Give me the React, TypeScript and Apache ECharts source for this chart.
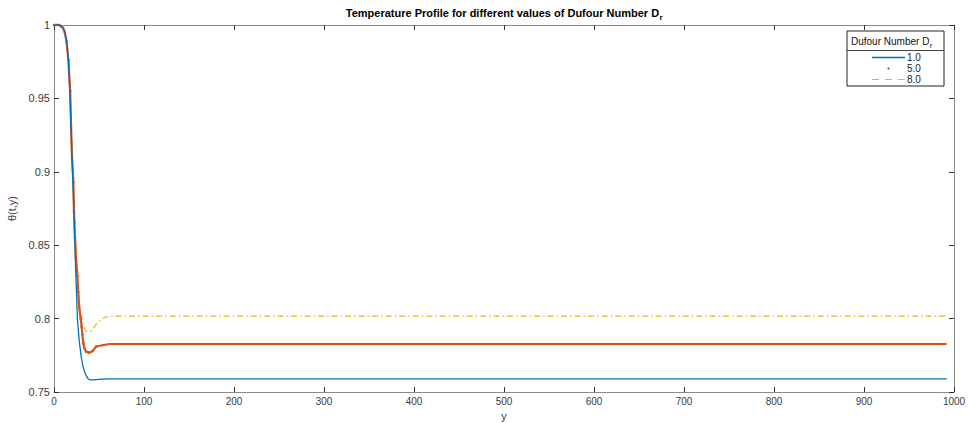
import React, { useEffect, useRef } from "react";
import * as echarts from "echarts";

const seriesNames = ["1.0", "5.0", "8.0"];
const seriesColors = ["#0072BD", "#D95319", "#EDB120"];

const blueX = [0, 6, 10, 12, 14, 16, 18, 20, 22, 24, 26, 28, 30, 32, 34, 36, 38, 40, 44, 50, 60, 992];
const blueY = [1, 1, 0.998, 0.9955, 0.99, 0.977, 0.948, 0.91, 0.876, 0.835, 0.8, 0.785, 0.775, 0.768, 0.7635, 0.761, 0.759, 0.7582, 0.7582, 0.7586, 0.7589, 0.7589];

const orangeX = [0, 2, 4, 6, 8, 10, 12, 14, 16, 18, 19, 20, 21.5, 22.2, 23.3, 24.4, 26, 27, 28, 29.6, 30.7, 31.5, 32.6, 33.7, 35.6, 39, 43, 47, 55, 62, 992];
const orangeY = [1, 1, 1, 1, 0.999, 0.998, 0.995, 0.988, 0.976, 0.955, 0.93, 0.91, 0.893, 0.873, 0.855, 0.841, 0.829, 0.818, 0.808, 0.8, 0.7945, 0.789, 0.783, 0.78, 0.7775, 0.7768, 0.778, 0.781, 0.782, 0.7827, 0.7827];

const yellowX = [0, 6, 10, 12, 14, 16, 18, 20, 22, 24, 26, 28, 30, 32, 34, 36, 38, 40, 44, 48, 52, 56, 62, 992];
const yellowY = [1, 1, 0.998, 0.995, 0.988, 0.976, 0.955, 0.913, 0.883, 0.852, 0.83, 0.81, 0.803, 0.797, 0.793, 0.7915, 0.791, 0.791, 0.7935, 0.797, 0.799, 0.8008, 0.8017, 0.8017];

const titleMain = "Temperature Profile for different values of Dufour Number D";
const titleSub = "r";
const legendTitle = "Dufour Number D";
const legendSub = "r";
const xName = "y";
const yName = "θ(t,y)";

const pair = (xs: number[], ys: number[]) => xs.map((x, i) => [x, ys[i]]);

const FONT = "'Liberation Sans', Arial, Helvetica, sans-serif";
const AXIS_GREY = "#8a8a8a";
const TEXT = "#3a3a3a";

function measure(text: string, font: string): number {
  const c = document.createElement("canvas");
  const ctx = c.getContext("2d");
  if (!ctx) return text.length * 6;
  ctx.font = font;
  return ctx.measureText(text).width;
}

export default function App() {
  const ref = useRef<HTMLDivElement>(null);
  useEffect(() => {
    if (!ref.current) return;
    const chart = echarts.init(ref.current, null, { renderer: "svg" });
    const L = 54, R = 954, T = 25, B = 392;
    const xCommon = {
      type: "value",
      min: 0,
      max: 1000,
      interval: 100,
      splitLine: { show: false },
      axisLine: { show: true, onZero: false, lineStyle: { color: AXIS_GREY, width: 1 } },
      axisTick: { show: true, inside: true, length: 5, lineStyle: { color: "#333", width: 1 } },
    };
    const yCommon = {
      type: "value",
      min: 0.75,
      max: 1,
      interval: 0.05,
      splitLine: { show: false },
      axisLine: { show: true, onZero: false, lineStyle: { color: AXIS_GREY, width: 1 } },
      axisTick: { show: true, inside: true, length: 5, lineStyle: { color: "#333", width: 1 } },
    };
    const lx = 847, ly = 31, lw = 97, lh = 55;

    const titleFont = "bold 11px 'Liberation Sans', Arial, sans-serif";
    const subFont = "bold 8px 'Liberation Sans', Arial, sans-serif";
    const tw = measure(titleMain, titleFont);
    const sw = measure(titleSub, subFont);
    const titleLeft = (L + R) / 2 - (tw + sw) / 2;

    const legFont = "10px 'Liberation Sans', Arial, sans-serif";
    const lgw = measure(legendTitle, legFont);

    chart.setOption({
      animation: false,
      backgroundColor: "#ffffff",
      grid: {
        left: L,
        right: 970 - R,
        top: T,
        bottom: 423 - B,
        containLabel: false,
        outerBoundsMode: "none",
      },
      xAxis: [
        {
          ...xCommon,
          position: "bottom",
          name: xName,
          nameLocation: "middle",
          nameGap: 17,
          nameTextStyle: { fontFamily: FONT, fontSize: 11, color: TEXT },
          axisLabel: {
            show: true,
            margin: 4,
            fontFamily: FONT,
            fontSize: 10,
            color: TEXT,
            formatter: (v: number) => String(v),
          },
        },
        { ...xCommon, position: "top", axisLabel: { show: false } },
      ],
      yAxis: [
        {
          ...yCommon,
          position: "left",
          name: yName,
          nameLocation: "middle",
          nameGap: 30,
          nameTextStyle: { fontFamily: FONT, fontSize: 11, color: TEXT },
          axisLabel: {
            show: true,
            margin: 4,
            fontFamily: FONT,
            fontSize: 11,
            color: TEXT,
            formatter: (v: number) => String(+v.toFixed(2)),
          },
        },
        { ...yCommon, position: "right", axisLabel: { show: false } },
      ],
      series: [
        {
          name: seriesNames[0],
          type: "line",
          data: pair(blueX, blueY),
          symbol: "none",
          lineStyle: { color: seriesColors[0], width: 1.3 },
          z: 3,
        },
        {
          name: seriesNames[1],
          type: "line",
          data: pair(orangeX, orangeY),
          symbol: "circle",
          symbolSize: (v: number[]) => (v[0] < 60 ? 2.6 : 0),
          itemStyle: { color: seriesColors[1] },
          lineStyle: { color: seriesColors[1], width: 2.2 },
          z: 2,
        },
        {
          name: seriesNames[2],
          type: "line",
          data: pair(yellowX, yellowY),
          symbol: "none",
          lineStyle: { color: seriesColors[2], width: 1.2, type: [6, 3, 1.5, 3] },
          z: 1,
        },
      ],
      graphic: [
        {
          type: "text",
          x: titleLeft,
          y: 13,
          style: {
            text: titleMain,
            font: titleFont,
            fill: "#000",
            align: "left",
            verticalAlign: "middle",
          },
          z: 10,
        },
        {
          type: "text",
          x: titleLeft + tw + 0.5,
          y: 17.5,
          style: {
            text: titleSub,
            font: subFont,
            fill: "#000",
            align: "left",
            verticalAlign: "middle",
          },
          z: 10,
        },
        {
          type: "rect",
          shape: { x: lx, y: ly, width: lw, height: lh },
          style: { fill: "#fff", stroke: "#222", lineWidth: 1 },
          z: 10,
        },
        {
          type: "line",
          shape: { x1: lx, y1: 50.5, x2: lx + lw, y2: 50.5 },
          style: { stroke: "#444", lineWidth: 1 },
          z: 11,
        },
        {
          type: "text",
          x: 851,
          y: 41,
          style: {
            text: legendTitle,
            font: legFont,
            fill: "#111",
            align: "left",
            verticalAlign: "middle",
          },
          z: 11,
        },
        {
          type: "text",
          x: 851 + lgw + 0.5,
          y: 45,
          style: {
            text: legendSub,
            font: "7.5px 'Liberation Sans', Arial, sans-serif",
            fill: "#111",
            align: "left",
            verticalAlign: "middle",
          },
          z: 11,
        },
        {
          type: "line",
          shape: { x1: 872, y1: 57.5, x2: 905, y2: 57.5 },
          style: { stroke: seriesColors[0], lineWidth: 1.3 },
          z: 11,
        },
        {
          type: "circle",
          shape: { cx: 888.5, cy: 68.5, r: 1.2 },
          style: { fill: seriesColors[1] },
          z: 11,
        },
        {
          type: "line",
          shape: { x1: 872, y1: 79.5, x2: 905, y2: 79.5 },
          style: { stroke: seriesColors[2], lineWidth: 1.2, lineDash: [7, 6] },
          z: 11,
        },
        ...seriesNames.map((n, i) => ({
          type: "text",
          x: 907,
          y: 57.5 + i * 11,
          style: {
            text: n,
            fontFamily: FONT,
            fontSize: 10,
            fill: "#222",
            align: "left",
            verticalAlign: "middle",
          },
          z: 11,
        })),
      ],
    });
    return () => chart.dispose();
  }, []);
  return (
    <div
      ref={ref}
      style={{ position: "fixed", left: 0, top: 0, width: 970, height: 423, background: "#fff" }}
    />
  );
}
